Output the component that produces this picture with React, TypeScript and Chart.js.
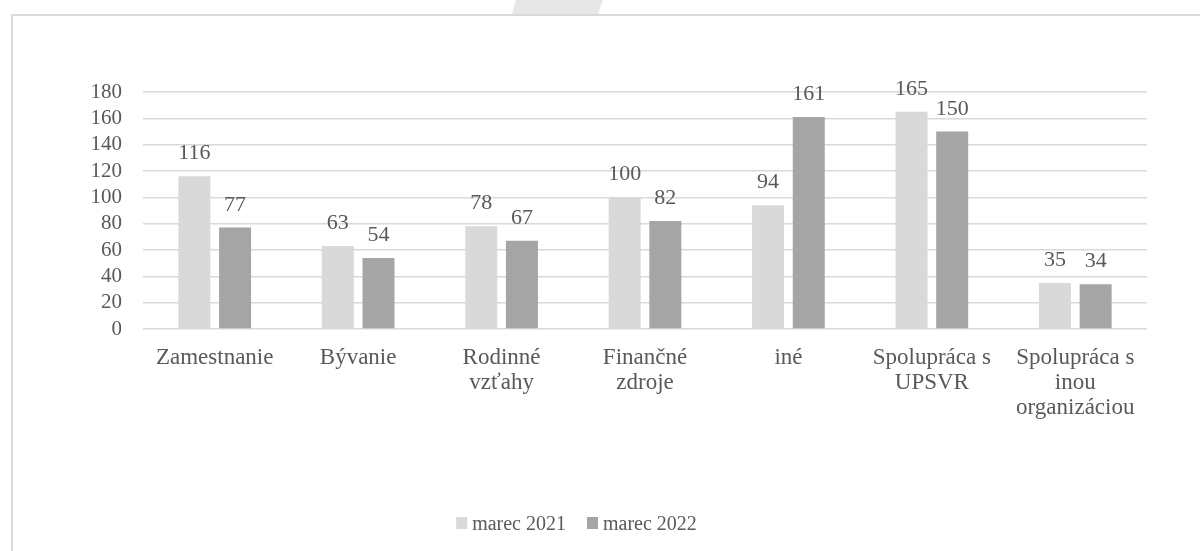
import React, { useEffect, useRef } from "react";
import { Chart, registerables } from "chart.js";

Chart.register(...registerables);

const categories: (string | string[])[] = [
  "Zamestnanie",
  "Bývanie",
  ["Rodinné", "vzťahy"],
  ["Finančné", "zdroje"],
  "iné",
  ["Spolupráca s", "UPSVR"],
  ["Spolupráca s", "inou", "organizáciou"],
];
const seriesNames = ["marec 2021", "marec 2022"];
const march2021 = [116, 63, 78, 100, 94, 165, 35];
const march2022 = [77, 54, 67, 82, 161, 150, 34];
const yMin = 0;
const yMax = 180;
const yStep = 20;

const FONT = '"Liberation Serif", "Times New Roman", serif';
const TEXT = "#595959";
const COLORS = ["#d9d9d9", "#a5a5a5"];

const framePlugin = {
  id: "frame",
  beforeDraw(chart: any) {
    const ctx = chart.ctx;
    ctx.save();
    ctx.fillStyle = "#ffffff";
    ctx.fillRect(0, 0, chart.width, chart.height);
    ctx.fillStyle = "#e7e7e7";
    ctx.beginPath();
    ctx.moveTo(516, 0);
    ctx.lineTo(603, 0);
    ctx.lineTo(598, 14);
    ctx.lineTo(512, 14);
    ctx.closePath();
    ctx.fill();
    ctx.fillStyle = "#d9d9d9";
    ctx.fillRect(11, 14, chart.width - 11, 2);
    ctx.fillRect(11, 14, 2, chart.height - 14);
    ctx.restore();
  },
};

const valueLabelPlugin = {
  id: "valueLabels",
  afterDatasetsDraw(chart: any) {
    const ctx = chart.ctx;
    ctx.save();
    ctx.font = `22px ${FONT}`;
    ctx.fillStyle = TEXT;
    ctx.textAlign = "center";
    ctx.textBaseline = "alphabetic";
    chart.data.datasets.forEach((ds: any, i: number) => {
      const meta = chart.getDatasetMeta(i);
      meta.data.forEach((el: any, j: number) => {
        ctx.fillText(String(ds.data[j]), el.x, el.y - 17);
      });
    });
    ctx.restore();
  },
};

const legendPlugin = {
  id: "customLegend",
  afterDraw(chart: any) {
    const ctx = chart.ctx;
    ctx.save();
    ctx.font = `20px ${FONT}`;
    ctx.textBaseline = "alphabetic";
    ctx.textAlign = "left";
    const box = 11;
    const gap = 5;
    const spacing = 21;
    const items = chart.data.datasets.map((ds: any) => ({
      label: ds.label,
      color: ds.backgroundColor,
      w: box + gap + ctx.measureText(ds.label).width,
    }));
    const total = items.reduce((s: number, it: any) => s + it.w, 0) + spacing * (items.length - 1);
    let x = 576.5 - total / 2;
    items.forEach((it: any) => {
      ctx.fillStyle = it.color;
      ctx.fillRect(x, 517, box, 12);
      ctx.fillStyle = TEXT;
      ctx.fillText(it.label, x + box + gap, 530);
      x += it.w + spacing;
    });
    ctx.restore();
  },
};

export default function App() {
  const ref = useRef<HTMLCanvasElement | null>(null);

  useEffect(() => {
    if (!ref.current) return;
    Chart.defaults.font.family = FONT;
    const chart = new Chart(ref.current, {
      type: "bar",
      data: {
        labels: categories,
        datasets: [
          {
            label: seriesNames[0],
            data: march2021,
            backgroundColor: COLORS[0],
            categoryPercentage: 0.5675,
            barPercentage: 0.786,
          },
          {
            label: seriesNames[1],
            data: march2022,
            backgroundColor: COLORS[1],
            categoryPercentage: 0.5675,
            barPercentage: 0.786,
          },
        ],
      },
      options: {
        responsive: false,
        animation: false,
        layout: { padding: { left: 6, right: 53, top: 92, bottom: 122 } },
        plugins: {
          legend: { display: false },
          tooltip: { enabled: false },
          title: { display: false },
        },
        scales: {
          x: {
            grid: { display: false, drawTicks: false },
            border: { display: false },
            ticks: {
              color: TEXT,
              font: { size: 23, family: FONT, lineHeight: 25 / 23 },
              padding: 16,
              maxRotation: 0,
              autoSkip: false,
            },
            afterFit(scale: any) {
              scale.height = 100;
            },
          },
          y: {
            min: yMin,
            max: yMax,
            grid: { color: "#d9d9d9", lineWidth: 1.5, drawTicks: false },
            border: { display: false },
            ticks: {
              stepSize: yStep,
              autoSkip: false,
              color: TEXT,
              font: { size: 21, family: FONT, lineHeight: 1 },
              padding: 21,
            },
            afterFit(scale: any) {
              scale.width = 137;
            },
          },
        },
      },
      plugins: [framePlugin, valueLabelPlugin, legendPlugin],
    } as any);
    return () => chart.destroy();
  }, []);

  return (
    <div style={{ position: "absolute", left: 0, top: 0, width: 1200, height: 551 }}>
      <canvas ref={ref} width={1200} height={551} style={{ display: "block", width: 1200, height: 551 }} />
    </div>
  );
}
